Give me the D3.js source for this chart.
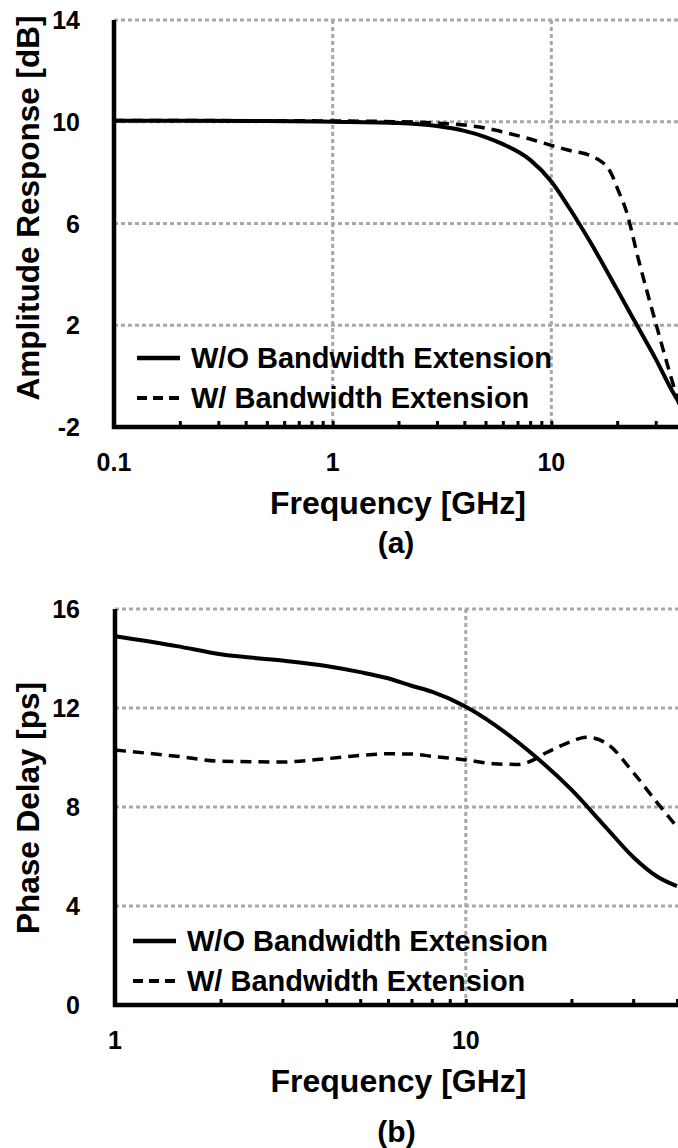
<!DOCTYPE html>
<html>
<head>
<meta charset="utf-8">
<script src="https://cdn.jsdelivr.net/npm/d3@7"></script>
<style>
  body { margin: 0; background: #fff; }
  svg text { font-family: "Liberation Sans", Arial, sans-serif; font-weight: bold; fill: #000; }
</style>
</head>
<body>
<script>
// (a) amplitude response, dB
const ampFreqWithout = [0.1, 0.5, 1, 2, 3, 4, 5, 6, 8, 10, 12, 15, 20, 25, 30, 35, 40];
const ampWithout     = [10.04, 10.03, 10.0, 9.95, 9.83, 9.64, 9.4, 9.12, 8.5, 7.65, 6.65, 5.3, 3.4, 1.9, 0.68, -0.45, -1.3];
const ampFreqWith = [0.1, 0.5, 1, 2, 3, 4, 5, 6, 8, 10, 12, 15, 17, 18, 19, 20, 22, 25, 30, 35, 40];
const ampWith     = [10.05, 10.04, 10.03, 10.0, 9.95, 9.87, 9.75, 9.6, 9.32, 9.07, 8.88, 8.68, 8.42, 8.22, 7.88, 7.4, 6.5, 4.6, 2.1, 0.05, -1.6];

// (b) phase delay, ps
const delayFreqWithout = [1, 1.5, 2, 3, 4, 5, 6, 7, 8, 10, 12, 15, 20, 25, 30, 35, 40];
const delayWithout     = [14.9, 14.5, 14.17, 13.92, 13.7, 13.45, 13.2, 12.9, 12.66, 12.05, 11.35, 10.3, 8.7, 7.2, 5.98, 5.2, 4.8];
const delayFreqWith = [1, 1.5, 2, 3, 4, 5, 6, 7, 8, 10, 12, 14, 15, 17, 20, 22, 25, 30, 35, 40];
const delayWith     = [10.3, 10.05, 9.85, 9.82, 9.95, 10.08, 10.15, 10.14, 10.05, 9.9, 9.75, 9.72, 9.8, 10.2, 10.65, 10.82, 10.6, 9.4, 8.2, 7.2];

const ampTicks = [-2, 2, 6, 10, 14];
const ampFreqTicks = [0.1, 1, 10];
const ampTickLabels = ["0.1", "1", "10"];
const delayTicks = [0, 4, 8, 12, 16];
const delayFreqTicks = [1, 10];
const delayTickLabels = ["1", "10"];
const legendLabels = ["W/O Bandwidth Extension", "W/ Bandwidth Extension"];

const width = 678, height = 1148;

const svg = d3.select("body").append("svg")
  .attr("width", width)
  .attr("height", height);

function panel(p) {
  const x = d3.scaleLog().domain(p.xDomain).range([p.left, p.right]);
  const y = d3.scaleLinear().domain(p.yDomain).range([p.bottom, p.top]);
  const g = svg.append("g");

  // dotted grid
  g.selectAll(".hgrid")
    .data(p.yTicks.slice(1))
    .enter().append("line")
    .attr("x1", p.left).attr("x2", width)
    .attr("y1", d => y(d)).attr("y2", d => y(d))
    .attr("stroke", "#a8a8a8").attr("stroke-width", 3)
    .attr("stroke-dasharray", "4,3");
  g.selectAll(".vgrid")
    .data(p.xTicks.slice(1))
    .enter().append("line")
    .attr("x1", d => x(d)).attr("x2", d => x(d))
    .attr("y1", p.top).attr("y2", p.bottom)
    .attr("stroke", "#a8a8a8").attr("stroke-width", 3)
    .attr("stroke-dasharray", "4,3");

  // minor ticks, pointing inward
  const ax = g.append("g")
    .attr("transform", "translate(0," + p.bottom + ")")
    .call(d3.axisBottom(x).tickValues(x.ticks()).tickSize(-6).tickFormat(""));
  ax.select(".domain").remove();
  ax.selectAll("line").attr("stroke", "#000").attr("stroke-width", 3);

  // curves
  const line = d3.line()
    .x(d => x(d[0]))
    .y(d => y(d[1]))
    .curve(d3.curveMonotoneX);

  g.append("path")
    .datum(d3.zip(p.freqWith, p.valWith))
    .attr("fill", "none").attr("stroke", "#000")
    .attr("stroke-width", 3.5)
    .attr("stroke-dasharray", "11,7")
    .attr("d", line);
  g.append("path")
    .datum(d3.zip(p.freqWithout, p.valWithout))
    .attr("fill", "none").attr("stroke", "#000")
    .attr("stroke-width", 4)
    .attr("d", line);

  // axis lines
  g.append("line")
    .attr("x1", p.left).attr("x2", p.left)
    .attr("y1", p.top).attr("y2", p.bottom + 2)
    .attr("stroke", "#000").attr("stroke-width", 4.5);
  g.append("line")
    .attr("x1", p.left - 2).attr("x2", width)
    .attr("y1", p.bottom).attr("y2", p.bottom)
    .attr("stroke", "#000").attr("stroke-width", 4.5);

  // tick labels
  g.selectAll(".ylab")
    .data(p.yTicks)
    .enter().append("text")
    .attr("x", 80).attr("y", d => y(d))
    .attr("dy", "0.36em")
    .attr("text-anchor", "end")
    .style("font-size", "25px")
    .text(d => d);
  g.selectAll(".xlab")
    .data(p.xTicks)
    .enter().append("text")
    .attr("x", d => x(d)).attr("y", p.bottom + 35)
    .attr("dy", "0.36em")
    .attr("text-anchor", "middle")
    .style("font-size", "25px")
    .text((d, i) => p.xLabels[i]);

  // titles
  g.append("text")
    .attr("x", (p.left + width) / 2 + 2).attr("y", p.bottom + 75)
    .attr("dy", "0.36em")
    .attr("text-anchor", "middle")
    .style("font-size", "32px")
    .text("Frequency [GHz]");
  g.append("text")
    .attr("x", (p.left + width) / 2).attr("y", p.captionY)
    .attr("dy", "0.36em")
    .attr("text-anchor", "middle")
    .style("font-size", "30px")
    .text(p.caption);
  g.append("text")
    .attr("transform", "translate(39," + p.titleY + ") rotate(-90)")
    .attr("text-anchor", "middle")
    .style("font-size", "31.5px")
    .text(p.yTitle);

  // legend
  const lg = g.append("g").attr("transform", "translate(" + p.legendX + "," + p.legendY + ")");
  legendLabels.forEach((label, i) => {
    lg.append("line")
      .attr("x1", 0).attr("x2", 43)
      .attr("y1", i * 40).attr("y2", i * 40)
      .attr("stroke", "#000")
      .attr("stroke-width", i === 0 ? 4.5 : 4)
      .attr("stroke-dasharray", i === 0 ? null : "10,6");
    lg.append("text")
      .attr("x", 54).attr("y", i * 40)
      .attr("dy", "0.36em")
      .style("font-size", "29px")
      .text(label);
  });
}

panel({
  xDomain: [0.1, 40], yDomain: [-2, 14],
  left: 114, right: 683, top: 20, bottom: 427,
  yTicks: ampTicks, xTicks: ampFreqTicks, xLabels: ampTickLabels,
  freqWithout: ampFreqWithout, valWithout: ampWithout,
  freqWith: ampFreqWith, valWith: ampWith,
  yTitle: "Amplitude Response [dB]", titleY: 208,
  caption: "(a)", captionY: 542,
  legendX: 137, legendY: 358
});

panel({
  xDomain: [1, 40], yDomain: [0, 16],
  left: 115, right: 677, top: 609, bottom: 1005,
  yTicks: delayTicks, xTicks: delayFreqTicks, xLabels: delayTickLabels,
  freqWithout: delayFreqWithout, valWithout: delayWithout,
  freqWith: delayFreqWith, valWith: delayWith,
  yTitle: "Phase Delay [ps]", titleY: 808,
  caption: "(b)", captionY: 1131,
  legendX: 133, legendY: 941
});
</script>
</body>
</html>
